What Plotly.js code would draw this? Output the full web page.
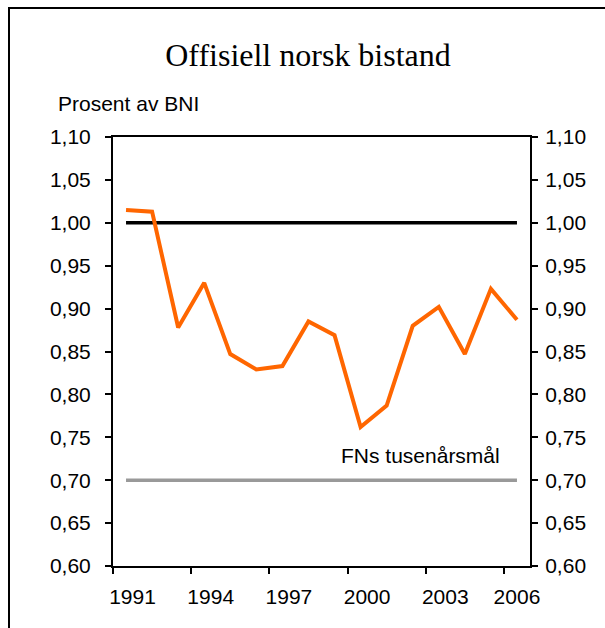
<!DOCTYPE html>
<html>
<head>
<meta charset="utf-8">
<script src="https://cdn.plot.ly/plotly-3.0.1.min.js"></script>
<style>
  html, body { margin: 0; padding: 0; width: 605px; height: 628px; overflow: hidden; background: #fff; }
  #chart { position: absolute; left: 0; top: 0; width: 605px; height: 628px; }
  #frame { position: absolute; left: 8px; top: 7px; width: 800px; height: 800px;
           border: 2px solid #000; box-sizing: border-box; pointer-events: none; }
</style>
</head>
<body>
<div id="chart"></div>
<div id="frame"></div>
<script>
// ---- Data ----
const years = [1991, 1992, 1993, 1994, 1995, 1996, 1997, 1998, 1999, 2000, 2001, 2002, 2003, 2004, 2005, 2006];
const bistand = [1.015, 1.013, 0.878, 0.930, 0.847, 0.829, 0.833, 0.885, 0.869, 0.762, 0.787, 0.880, 0.902, 0.847, 0.923, 0.887];
const targetOne = 1.00;      // 1 % mål
const fnTarget = 0.70;       // FNs tusenårsmål
const labelYears = [1991, 1994, 1997, 2000, 2003, 2006];
const yTicks = [0.60, 0.65, 0.70, 0.75, 0.80, 0.85, 0.90, 0.95, 1.00, 1.05, 1.10];

const FONT = '"Liberation Sans", Arial, sans-serif';
const FS = 21;
const first = years[0], last = years[years.length - 1];
const xRange = [first - 0.5, last + 0.5];
const boundaryTicks = labelYears.map(y => y - 0.5);
// Excel-style label placement: slightly right of the category centre, last one centred
const labelPos = labelYears.map(y => (y === last ? y : y + 0.25));

const traces = [
  { x: [first, last], y: [fnTarget, fnTarget], type: 'scatter', mode: 'lines',
    line: { color: '#999999', width: 3.5 }, hoverinfo: 'skip', xaxis: 'x', yaxis: 'y' },
  { x: [first, last], y: [targetOne, targetOne], type: 'scatter', mode: 'lines',
    line: { color: '#000000', width: 3.5 }, hoverinfo: 'skip', xaxis: 'x', yaxis: 'y' },
  { x: years, y: bistand, type: 'scatter', mode: 'lines',
    line: { color: '#FF6600', width: 4 }, xaxis: 'x', yaxis: 'y' },
  { x: years, y: bistand, type: 'scatter', mode: 'lines', opacity: 0,
    line: { width: 0 }, hoverinfo: 'skip', xaxis: 'x2', yaxis: 'y2' }
];

const yCommon = {
  range: [0.6, 1.1], tickvals: yTicks, tickformat: '.2f',
  ticks: 'outside', ticklen: 6, tickwidth: 2, tickcolor: '#000',
  showline: true, linecolor: '#000', linewidth: 2,
  showgrid: false, zeroline: false,
  tickfont: { family: FONT, size: FS, color: '#000' },
  fixedrange: true
};

const layout = {
  width: 605, height: 628,
  margin: { l: 113, r: 75, t: 137, b: 62, pad: 0 },
  paper_bgcolor: '#fff', plot_bgcolor: '#fff',
  separators: ', ',
  showlegend: false,
  title: {
    text: 'Offisiell norsk bistand',
    font: { family: '"Liberation Serif", "Times New Roman", serif', size: 32, color: '#000' },
    xref: 'container', yref: 'container',
    x: 308 / 605, y: 1 - 55 / 628, xanchor: 'center', yanchor: 'middle'
  },
  xaxis: {
    range: xRange, tickvals: boundaryTicks, showticklabels: false,
    ticks: 'outside', ticklen: 6, tickwidth: 2, tickcolor: '#000',
    showline: true, linecolor: '#000', linewidth: 2, mirror: true,
    showgrid: false, zeroline: false, fixedrange: true
  },
  xaxis2: {
    range: xRange, overlaying: 'x', anchor: 'y', side: 'bottom',
    tickvals: labelPos, ticktext: labelYears.map(String),
    ticks: '', showline: false, showgrid: false, zeroline: false,
    tickfont: { family: FONT, size: FS, color: '#000' },
    ticklabelstandoff: 16, fixedrange: true
  },
  yaxis: Object.assign({}, yCommon, { side: 'left', ticklabelstandoff: 10 }),
  yaxis2: Object.assign({}, yCommon, { side: 'right', overlaying: 'y', anchor: 'x', ticklabelstandoff: 3 }),
  annotations: [
    { text: 'Prosent av BNI', xref: 'paper', yref: 'paper',
      x: (56 - 113) / 417, y: (566 - 103) / 429, xanchor: 'left', yanchor: 'middle',
      showarrow: false, font: { family: FONT, size: FS, color: '#000' } },
    { text: 'FNs tusenårsmål', xref: 'paper', yref: 'paper',
      x: (420 - 113) / 417, y: (566 - 455) / 429, xanchor: 'center', yanchor: 'middle',
      showarrow: false, font: { family: FONT, size: FS, color: '#000' } }
  ]
};

Plotly.newPlot('chart', traces, layout, { displayModeBar: false, staticPlot: true });
</script>
</body>
</html>
